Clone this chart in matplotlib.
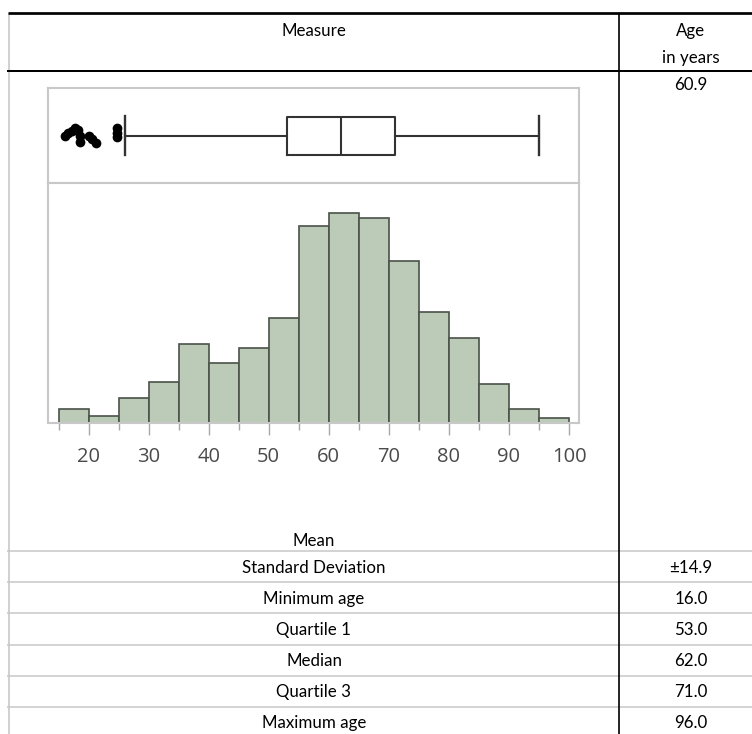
import matplotlib
matplotlib.use("Agg")
import matplotlib.pyplot as plt
from matplotlib.lines import Line2D
import numpy as np

# ---------------- data ----------------
bin_edges = [15, 20, 25, 30, 35, 40, 45, 50, 55, 60, 65, 70, 75, 80, 85, 90, 95, 100]
bin_percent = [0.98, 0.50, 1.79, 2.94, 5.65, 4.28, 5.34, 7.56, 14.13, 15.02,
               14.71, 11.62, 7.99, 6.10, 2.83, 0.98, 0.36]

box_q1 = 53.0
box_median = 62.0
box_q3 = 71.0
whisker_low = 26.0
whisker_high = 95.0

outlier_age = [16.0, 16.6, 17.3, 17.8, 18.3, 18.6, 18.5, 20.0, 20.6, 21.3, 24.7, 24.7, 24.8]
outlier_jitter = [0.50, 0.53, 0.55, 0.58, 0.56, 0.49, 0.43, 0.50, 0.46, 0.42, 0.58, 0.53, 0.48]

major_ticks = [20, 30, 40, 50, 60, 70, 80, 90, 100]
minor_ticks = [15, 25, 35, 45, 55, 65, 75, 85, 95]

header_measure = "Measure"
header_value = "Age\nin years"
row_labels = ["Standard Deviation", "Minimum age", "Quartile 1", "Median", "Quartile 3", "Maximum age"]
row_values = ["±14.9", "16.0", "53.0", "62.0", "71.0", "96.0"]
mean_label = "Mean"
mean_value = "60.9"

# ---------------- figure ----------------
W, H = 752, 734
fig = plt.figure(figsize=(W / 100, H / 100), dpi=100)
fig.patch.set_facecolor("white")

def fx(px):
    return px / W

def fy(py):
    return 1 - py / H

XMIN, XMAX = 13.25, 101.66
frame_col = "#c8c8c8"

# box plot panel
axb = fig.add_axes([fx(48), fy(183), fx(579) - fx(48), (183 - 88) / H])
axb.set_xlim(XMIN, XMAX)
axb.set_ylim(0, 1)
stats = [dict(q1=box_q1, med=box_median, q3=box_q3, whislo=whisker_low,
              whishi=whisker_high, fliers=[])]
lc = "#333333"
axb.bxp(stats, positions=[0.5], widths=0.40, orientation="horizontal",
        showfliers=False,
        boxprops=dict(color=lc, linewidth=1.5),
        medianprops=dict(color=lc, linewidth=1.5),
        whiskerprops=dict(color=lc, linewidth=1.5),
        capprops=dict(color=lc, linewidth=1.7),
        capwidths=0.42)
axb.plot(outlier_age, outlier_jitter, "o", color="black", markersize=7,
         markeredgewidth=0)
axb.set_xticks([])
axb.set_yticks([])
for s in axb.spines.values():
    s.set_color(frame_col)
    s.set_linewidth(1.5)

# histogram panel
axh = fig.add_axes([fx(48), fy(423), fx(579) - fx(48), (423 - 183) / H])
axh.set_xlim(XMIN, XMAX)
axh.set_ylim(0, 17.2)
axh.bar(bin_edges[:-1], bin_percent, width=np.diff(bin_edges), align="edge",
        color="#bccbb8", edgecolor="#4a5249", linewidth=1.2)
axh.set_yticks([])
axh.set_xticks(major_ticks)
axh.set_xticks(minor_ticks, minor=True)
axh.set_xticklabels([str(t) for t in major_ticks], fontsize=14.5,
                    family="Open Sans", color="#4a4a4a")
axh.tick_params(axis="x", which="major", length=8.6, width=1.0,
                color="#a8a8a8", pad=9)
axh.tick_params(axis="x", which="minor", length=5, width=1.0, color="#a8a8a8")
for s in axh.spines.values():
    s.set_color(frame_col)
    s.set_linewidth(1.5)

# ---------------- table ----------------
def hline(y, x0, x1, color, lw):
    fig.add_artist(Line2D([fx(x0), fx(x1)], [fy(y), fy(y)], color=color,
                          linewidth=lw, solid_capstyle="butt"))

def vline(x, y0, y1, color, lw):
    fig.add_artist(Line2D([fx(x), fx(x)], [fy(y0), fy(y1)], color=color,
                          linewidth=lw, solid_capstyle="butt"))

vline(8.7, 13, 734, "#c8c8c8", 1.2)
row_lines = [551, 582, 613, 645, 676, 707]
for y in row_lines:
    hline(y, 7, 752, "#c8c8c8", 1.1)
hline(13, 8, 752, "black", 1.95)
hline(71, 7, 752, "black", 1.45)
vline(619, 13, 734, "black", 1.2)

tfont = dict(family="Lato", fontsize=12.2, color="black", ha="center", va="baseline")
cx_left, cx_right = 314, 691
fig.text(fx(cx_left), fy(36), header_measure, **tfont)
fig.text(fx(cx_right), fy(36), header_value.split("\n")[0], **tfont)
fig.text(fx(cx_right), fy(63.5), header_value.split("\n")[1], **tfont)
fig.text(fx(cx_right), fy(90), mean_value, **tfont)
fig.text(fx(cx_left), fy(546), mean_label, **tfont)
baselines = [573, 604, 635, 666.5, 697, 728]
for lab, val, yb in zip(row_labels, row_values, baselines):
    fig.text(fx(cx_left), fy(yb), lab, **tfont)
    fig.text(fx(cx_right), fy(yb), val, **tfont)

fig.savefig("out.png", dpi=100)
